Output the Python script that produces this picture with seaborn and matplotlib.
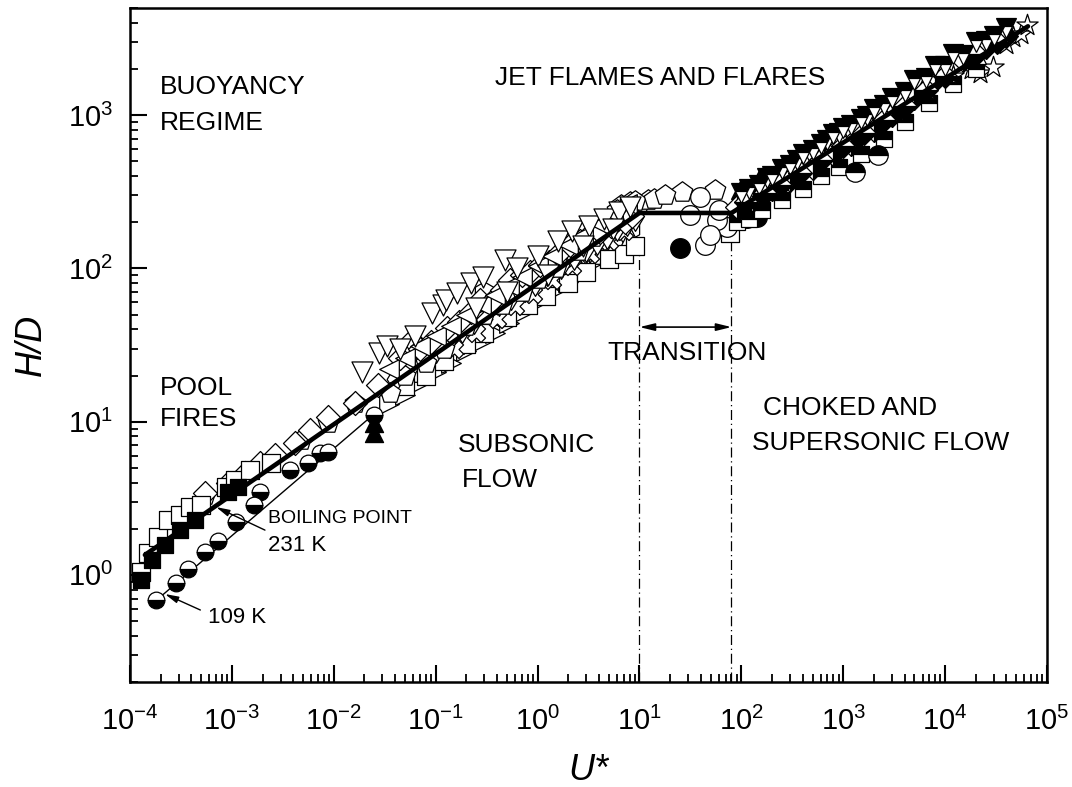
import numpy as np
import matplotlib
matplotlib.use("Agg")
import matplotlib.pyplot as plt
import seaborn as sns
from matplotlib.ticker import LogLocator, NullFormatter, LogFormatterSciNotation

# ---------------- data ----------------
# correlation line (thick) and the thin 109 K line
line_u = [1.4e-4, 10, 80, 6.5e4]
line_h = [1.35, 230, 230, 3800]
thin_u = [1.8e-4, 0.026]
thin_h = [0.68, 11.5]

# pool fires: 109 K half-filled circles
k109_u = [1.8e-4, 2.8e-4, 3.7e-4, 5.4e-4, 7.3e-4, 1.1e-3, 1.65e-3, 1.9e-3, 3.7e-3, 5.6e-3, 7.3e-3, 8.8e-3, 0.025]
k109_h = [0.69, 0.88, 1.09, 1.41, 1.66, 2.21, 2.86, 3.5, 4.8, 5.4, 6.2, 6.3, 11.0]
# filled triangles near U* = 0.025
tri_fill_u = [0.025, 0.025]
tri_fill_h = [9.8, 8.4]
# pool fire squares
sq_open_u = [1.28e-4, 1.5e-4, 1.88e-4, 2.36e-4, 3.1e-4, 3.9e-4, 5.0e-4, 8.7e-4, 1.07e-3, 1.5e-3, 2.4e-3]
sq_open_h = [1.04, 1.39, 1.77, 2.28, 2.45, 2.77, 2.86, 3.74, 4.16, 4.8, 5.4]
sq_fill_u = [1.28e-4, 1.64e-4, 2.2e-4, 3.1e-4, 4.3e-4, 9.1e-4, 1.14e-3]
sq_fill_h = [0.92, 1.25, 1.57, 1.96, 2.28, 3.47, 3.74]

# subsonic cloud (open markers)
tdn_u = [0.019, 0.028, 0.033, 0.045, 0.063, 0.093, 0.118, 0.126, 0.162, 0.22, 0.29, 0.48, 0.63, 1.0, 1.6, 2.2, 3.2, 4.5, 6.3, 8.0, 0.25, 0.5, 1.26, 2.8, 5.5]
tdn_h = [21, 28, 31, 30, 36, 51, 58, 62, 69, 80, 88, 113, 100, 120, 150, 175, 190, 210, 235, 250, 55, 70, 90, 140, 180]
dia_u = [5.4e-4, 9.2e-4, 1.35e-3, 1.89e-3, 2.65e-3, 4.16e-3, 5.83e-3, 8.8e-3, 0.016, 0.027, 0.045, 0.058, 0.07, 0.09, 0.13, 0.17, 0.22, 0.27, 0.35, 0.45, 0.54, 0.7, 0.85, 1.05, 1.3, 1.6, 2.06, 2.6, 3.2, 4.1, 5.2, 6.2, 7.2, 8.5]
dia_h = [3.42, 3.97, 4.62, 5.37, 6.05, 7.25, 8.8, 10.7, 13.2, 17.3, 26, 34, 30, 33, 41, 45, 52, 62, 60, 72, 84, 90, 95, 105, 110, 125, 142, 150, 165, 172, 190, 210, 200, 220]
pent_u = [5.5e-4, 4.8e-3, 8.8e-3, 0.016, 0.036, 0.05, 0.08, 0.12, 0.2, 0.3, 0.45, 0.7, 1.0, 1.5, 2.5, 3.5, 5.0, 6.6, 8.0, 10, 12, 26, 55, 6.0, 9.0, 14, 18]
pent_h = [3.3, 7.6, 9.8, 13.3, 15.3, 20, 24, 30, 42, 50, 58, 70, 85, 100, 130, 160, 200, 260, 270, 265, 280, 314, 324, 240, 275, 285, 300]
sqc_u = [0.05, 0.08, 0.12, 0.2, 0.3, 0.5, 0.8, 1.2, 2.0, 3.0, 5.0, 7.0, 9.0, 77]
sqc_h = [17, 20, 25, 32, 38, 48, 58, 66, 80, 95, 115, 125, 140, 170]
tup_u = [0.06, 0.1, 0.15, 0.25, 0.4, 0.6, 1.0, 1.5, 2.5, 4.0, 6.0, 8.0]
tup_h = [21, 26, 32, 40, 50, 60, 72, 88, 105, 125, 150, 160]
hex_u = [0.3, 0.6, 1.2, 2.0, 3.0, 4.5, 6.0, 8.0]
hex_h = [70, 85, 100, 120, 140, 150, 170, 180]
thd_u = [0.04, 0.055, 0.075, 0.1, 0.14, 0.18, 0.24, 0.32, 0.42, 0.55, 0.75, 0.95, 1.25, 1.7, 2.3, 3.0, 3.8, 4.8, 6.0, 7.5, 9.0]
thd_h = [19, 22, 27, 30, 36, 40, 46, 54, 60, 66, 75, 82, 95, 105, 120, 135, 150, 165, 185, 200, 215]
tl_u = [0.035, 0.05, 0.07, 0.1, 0.14, 0.2, 0.28, 0.38, 0.52, 0.7, 1.0, 1.4, 2.0, 2.8, 4.0, 5.5, 7.5]
tl_h = [22, 26, 31, 36, 42, 50, 58, 67, 77, 88, 104, 121, 143, 166, 196, 228, 262]
tr_u = [0.035, 0.05, 0.07, 0.1, 0.14, 0.2, 0.28, 0.38, 0.52, 0.7, 1.0, 1.4, 2.0, 2.8, 4.0, 5.5, 7.5]
tr_h = [13, 15, 18, 21, 24, 29, 33, 38, 44, 51, 60, 70, 82, 96, 113, 131, 151]
co_u = [0.3, 0.45, 0.65, 0.9, 1.3, 1.8, 2.5, 3.5, 5.0, 7.0, 9.5]
co_h = [51, 61, 72, 84, 99, 115, 134, 156, 184, 215, 248]
xo_u = [0.15, 0.25, 0.4, 0.6, 0.9, 1.4, 2.2, 3.3, 5.0, 7.0]
xo_h = [30, 38, 47, 57, 68, 84, 103, 124, 150, 176]

# transition region circles
circ_open_u = [44, 72, 58, 39, 31, 61, 49]
circ_open_h = [142, 186, 206, 292, 222, 240, 165]
circ_fill_u = [25, 114, 142]
circ_fill_h = [136, 213, 215]
circ_half_u = [1300, 2190]
circ_half_h = [425, 548]

# choked / supersonic flow (half-filled markers)
rtd_u = [100, 150, 200, 300, 400, 600, 800, 1000, 1500, 2000, 3000, 5000, 8000, 12000, 20000, 30000]
rtd_h = [310, 350, 400, 470, 560, 650, 750, 820, 950, 1100, 1300, 1700, 2100, 2500, 3000, 3300]
rtd2_u = [120, 180, 250, 350, 500, 700, 900, 1200, 1700, 2500, 4000, 6500, 10000, 15000, 25000, 40000]
rtd2_h = [329, 389, 446, 513, 596, 686, 762, 859, 994, 1168, 1420, 1741, 2086, 2470, 3057, 3716]
rdia_u = [90, 130, 200, 300, 500, 800, 1200, 2000, 3000, 5000, 8000, 15000, 25000, 40000]
rdia_h = [250, 280, 330, 380, 450, 560, 650, 800, 1000, 1300, 1700, 2300, 2800, 3300]
rdia2_u = [110, 170, 240, 380, 600, 1000, 1600, 2500, 4000, 6500, 10000, 20000, 32000]
rdia2_h = [270, 310, 350, 420, 510, 630, 770, 930, 1150, 1450, 1800, 2500, 3000]
rsq_u = [90, 120, 160, 250, 400, 600, 900, 1500, 2500, 4000, 7000, 12000, 20000]
rsq_h = [200, 210, 240, 280, 330, 400, 460, 560, 700, 900, 1200, 1600, 2000]
rtu_u = [100, 150, 250, 400, 700, 1000, 1800, 3000, 6000, 10000, 20000]
rtu_h = [330, 380, 450, 520, 620, 700, 900, 1100, 1500, 1900, 2500]
star_u = [12000, 18000, 21900, 29500, 40000, 46200, 55000, 63500]
star_h = [1800, 2000, 1880, 2055, 2900, 3220, 3400, 3860]

# transition marks
trans_u = [10, 80]
trans_top = [130, 180]
arrow_h = 41.4

# ---------------- style ----------------
sns.set_style("ticks")
plt.rcParams["font.family"] = ["Liberation Sans", "DejaVu Sans"]
plt.rcParams["mathtext.fontset"] = "custom"
plt.rcParams["mathtext.rm"] = "Liberation Sans"
plt.rcParams["mathtext.it"] = "Liberation Sans:italic"
plt.rcParams["mathtext.bf"] = "Liberation Sans:bold"
for k in ["text.color", "axes.labelcolor", "xtick.color", "ytick.color", "axes.edgecolor"]:
    plt.rcParams[k] = "black"

fig = plt.figure(figsize=(10.72, 7.87), dpi=100)
ax = fig.add_axes([0.1213, 0.1334, 0.8554, 0.8564])
ax.set_xscale("log")
ax.set_yscale("log")

def open_pts(u, h, marker, s, lw=0.9):
    sns.scatterplot(x=u, y=h, marker=marker, s=s, color="white", edgecolor="black",
                    linewidth=lw, ax=ax, zorder=3, legend=False)

def half_pts(u, h, marker, ms, fs):
    sns.lineplot(x=u, y=h, marker=marker, markersize=ms, linestyle="", fillstyle=fs,
                 markerfacecolor="black", markerfacecoloralt="white", markeredgecolor="black",
                 markeredgewidth=0.9, color="black", estimator=None, sort=False, ax=ax,
                 zorder=3, legend=False)

def fill_pts(u, h, marker, s):
    sns.scatterplot(x=u, y=h, marker=marker, s=s, color="black", edgecolor="black",
                    linewidth=0.9, ax=ax, zorder=3, legend=False)

# cloud
open_pts(hex_u, hex_h, "h", 230)
open_pts(tr_u, tr_h, ">", 200)
open_pts(tup_u, tup_h, "^", 200)
open_pts(sqc_u, sqc_h, "s", 170)
open_pts(xo_u, xo_h, "X", 170)
open_pts(co_u, co_h, "o", 170)
open_pts(thd_u, thd_h, "d", 200)
open_pts(pent_u, pent_h, "p", 240)
open_pts(dia_u, dia_h, "D", 150)
open_pts(tl_u, tl_h, "<", 200)
open_pts(tdn_u, tdn_h, "v", 230)
open_pts(circ_open_u, circ_open_h, "o", 200)
open_pts(star_u, star_h, "*", 260)
open_pts(sq_open_u, sq_open_h, "s", 150)
fill_pts(sq_fill_u, sq_fill_h, "s", 130)
fill_pts(tri_fill_u, tri_fill_h, "^", 170)
fill_pts(circ_fill_u, circ_fill_h, "o", 200)

half_pts(rsq_u, rsq_h, "s", 12, "top")
half_pts(rtu_u, rtu_h, "^", 14, "left")
half_pts(rdia_u, rdia_h, "D", 12, "right")
half_pts(rdia2_u, rdia2_h, "D", 12, "bottom")
half_pts(rtd2_u, rtd2_h, "v", 15, "top")
half_pts(rtd_u, rtd_h, "v", 15, "top")
half_pts(circ_half_u, circ_half_h, "o", 14, "top")
half_pts(k109_u, k109_h, "o", 12, "bottom")

# lines
sns.lineplot(x=line_u, y=line_h, color="black", linewidth=3.3, estimator=None, sort=False,
             ax=ax, zorder=5, legend=False)
sns.lineplot(x=thin_u, y=thin_h, color="black", linewidth=1.0, estimator=None, sort=False,
             ax=ax, zorder=2, legend=False)
ax.vlines(trans_u, 0.2, trans_top, colors="black", linestyles=(0, (8, 3, 1, 3)), linewidth=0.9, zorder=1)
ax.annotate("", xy=(trans_u[1], arrow_h), xytext=(trans_u[0], arrow_h),
            arrowprops=dict(arrowstyle="<|-|>,head_length=0.9,head_width=0.22", color="black",
                            lw=1.2, shrinkA=0, shrinkB=0))

# annotations
fs = 19
ax.text(0.0327, 0.883, "BUOYANCY", transform=ax.transAxes, fontsize=fs, va="center")
ax.text(0.0327, 0.829, "REGIME", transform=ax.transAxes, fontsize=fs, va="center")
ax.text(0.398, 0.896, "JET FLAMES AND FLARES", transform=ax.transAxes, fontsize=fs, va="center")
ax.text(0.0327, 0.436, "POOL", transform=ax.transAxes, fontsize=fs, va="center")
ax.text(0.0327, 0.390, "FIRES", transform=ax.transAxes, fontsize=fs, va="center")
ax.text(0.358, 0.352, "SUBSONIC", transform=ax.transAxes, fontsize=fs, va="center")
ax.text(0.362, 0.300, "FLOW", transform=ax.transAxes, fontsize=fs, va="center")
ax.text(0.521, 0.488, "TRANSITION", transform=ax.transAxes, fontsize=fs, va="center")
ax.text(0.690, 0.4065, "CHOKED AND", transform=ax.transAxes, fontsize=fs, va="center")
ax.text(0.678, 0.355, "SUPERSONIC FLOW", transform=ax.transAxes, fontsize=fs, va="center")
ax.text(0.1505, 0.243, "BOILING POINT", transform=ax.transAxes, fontsize=14, va="center")
ax.text(0.1505, 0.203, "231 K", transform=ax.transAxes, fontsize=16, va="center")
ax.text(0.085, 0.0964, "109 K", transform=ax.transAxes, fontsize=16, va="center")
ax.annotate("", xy=(7.0e-4, 2.77), xytext=(2.11e-3, 1.96),
            arrowprops=dict(arrowstyle="-|>,head_length=0.8,head_width=0.2", color="black", lw=1.0,
                            shrinkA=0, shrinkB=0))
ax.annotate("", xy=(2.2e-4, 0.75), xytext=(4.9e-4, 0.59),
            arrowprops=dict(arrowstyle="-|>,head_length=0.8,head_width=0.2", color="black", lw=1.0,
                            shrinkA=0, shrinkB=0))

# axes
ax.set_xlim(1e-4, 1e5)
ax.set_ylim(0.2, 5000)
ax.xaxis.set_major_locator(LogLocator(base=10, numticks=20))
ax.xaxis.set_minor_locator(LogLocator(base=10, subs=np.arange(2, 10), numticks=200))
ax.yaxis.set_major_locator(LogLocator(base=10, numticks=20))
ax.yaxis.set_minor_locator(LogLocator(base=10, subs=np.arange(2, 10), numticks=200))
ax.xaxis.set_major_formatter(LogFormatterSciNotation())
ax.yaxis.set_major_formatter(LogFormatterSciNotation())
ax.xaxis.set_minor_formatter(NullFormatter())
ax.yaxis.set_minor_formatter(NullFormatter())
ax.tick_params(which="major", direction="in", length=12, width=1.5, labelsize=21,
               top=False, right=False)
ax.tick_params(which="minor", direction="in", length=6, width=1.3, top=False, right=False)
ax.tick_params(axis="x", which="major", pad=18)
ax.tick_params(axis="y", which="major", pad=12)
for sp in ax.spines.values():
    sp.set_linewidth(1.8)
    sp.set_visible(True)
ax.set_xlabel("U*", fontsize=26, style="italic", labelpad=12)
ax.set_ylabel("H/D", fontsize=26, style="italic", labelpad=14)

fig.savefig("out.png", dpi=100)
